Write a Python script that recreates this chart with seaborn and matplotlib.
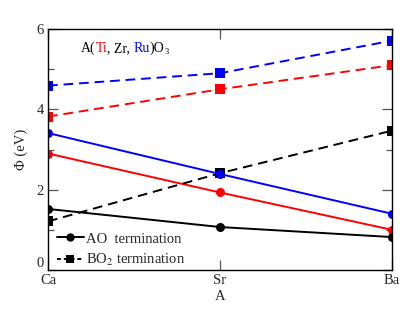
import pandas as pd
import matplotlib
matplotlib.use("Agg")
import matplotlib.pyplot as plt
from matplotlib.lines import Line2D
import seaborn as sns

# data
sites = ["Ca", "Sr", "Ba"]
ti_ao = [2.90, 1.93, 1.00]
zr_ao = [1.52, 1.07, 0.82]
ru_ao = [3.41, 2.39, 1.40]
ti_bo2 = [3.82, 4.50, 5.10]
zr_bo2 = [1.21, 2.41, 3.47]
ru_bo2 = [4.59, 4.90, 5.71]

rows = []
for b, term, vals in [("Ti", "AO", ti_ao), ("Zr", "AO", zr_ao), ("Ru", "AO", ru_ao),
                      ("Ti", "BO2", ti_bo2), ("Zr", "BO2", zr_bo2), ("Ru", "BO2", ru_bo2)]:
    for i, v in enumerate(vals):
        rows.append({"x": i, "phi": v, "B": b, "term": term})
df = pd.DataFrame(rows)

sns.set_style("ticks")
plt.rcParams["font.family"] = ["Liberation Serif", "DejaVu Serif"]
plt.rcParams["mathtext.fontset"] = "stix"

fig = plt.figure(figsize=(4.15, 3.12), dpi=100)
ax = fig.add_axes([0.1157, 0.1346, 0.829, 0.7724])

palette = {"Ti": "#ff0000", "Zr": "#000000", "Ru": "#0000ff"}
sns.lineplot(data=df, x="x", y="phi", hue="B", style="term", palette=palette,
             markers={"AO": "o", "BO2": "s"},
             dashes={"AO": "", "BO2": (5, 3)},
             markeredgewidth=0, markersize=6.5, linewidth=1.4,
             legend=False, ax=ax)

ax.set_xlim(0, 2)
ax.set_ylim(0, 6)
ax.set_xticks([0, 1, 2])
ax.set_xticklabels(sites)
ax.set_yticks([0, 2, 4, 6])
ax.set_yticks([1, 3, 5], minor=True)
ax.tick_params(direction="in", top=True, right=True, labelsize=10.5,
               length=7, width=0.9, pad=3, color="#555555")
ax.tick_params(which="minor", direction="in", right=True, length=4, width=0.9, color="#555555")
# lift the "0" a bit so it clears "Ca", as in the original
ax.get_yticklabels()[0].set_va("bottom")
for s in ax.spines.values():
    s.set_linewidth(1.0)
    s.set_color("black")
ax.set_xlabel("A", fontsize=10.5, labelpad=2)
ax.set_ylabel("Φ (eV)", fontsize=10.5, labelpad=6)

handles = [
    Line2D([], [], color="black", marker="o", markersize=6, markeredgewidth=0, linewidth=1.4),
    Line2D([], [], color="black", marker="s", markersize=6, markeredgewidth=0, linewidth=1.4,
           linestyle=(0, (2, 1.5))),
]
ax.legend(handles, ["AO  termination", "BO$_{2}$ termination"], loc="lower left",
          bbox_to_anchor=(-0.005, -0.035), frameon=False, fontsize=10.5,
          handlelength=1.9, handletextpad=0.15, labelspacing=0.45, borderaxespad=0.3)

# coloured formula label
fig.canvas.draw()
renderer = fig.canvas.get_renderer()
parts = [("A(", "black"), ("Ti", "#ff0000"), (", Zr, ", "black"), ("Ru", "#0000ff"),
         (")O", "black")]
x0, y0 = 0.095, 0.905
trans = ax.transAxes
t = None
for txt, col in parts:
    if t is None:
        t = ax.text(x0, y0, txt, color=col, fontsize=10, transform=trans, va="baseline")
    else:
        t = ax.annotate(txt, xycoords=t, xy=(1, 0), va="bottom", ha="left",
                        color=col, fontsize=10)
    t.draw(renderer)
ax.annotate("3", xycoords=t, xy=(1, 0), xytext=(0, -1), textcoords="offset points",
            va="bottom", ha="left", color="black", fontsize=6)

fig.savefig("out.png", dpi=100)
